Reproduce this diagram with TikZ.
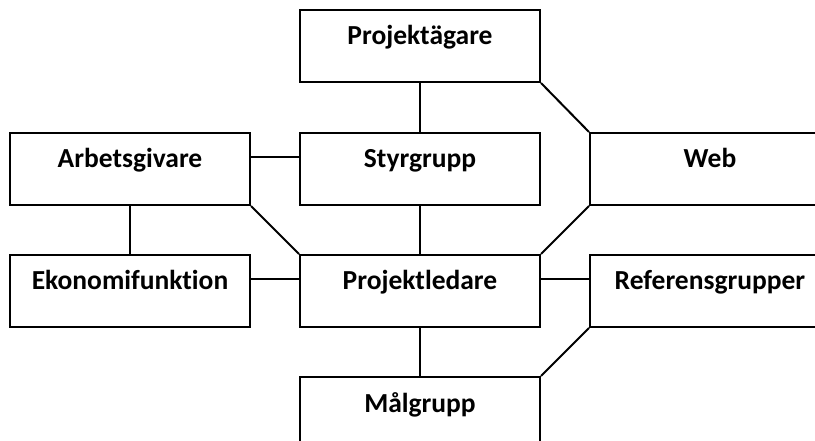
\documentclass[tikz,border=0pt]{standalone}
\usepackage{fontspec}
\setmainfont{Carlito}[Ligatures=NoCommon]
\usetikzlibrary{positioning}

\begin{document}
\begin{tikzpicture}[
        x=1pt, y=-1pt,
        font=\bfseries\fontsize{27.5}{32}\selectfont,
        box/.style={
            draw, line width=2pt,
            minimum width=240pt,
            inner sep=0pt,
            text height=35pt, text depth=37pt
        },
        link/.style={line width=2pt},
        node distance=48pt and 48pt
    ]
    \useasboundingbox (0,0) rectangle (815,441);
    \clip (0,0) rectangle (815,441);

    \node[box] (styr) at (420,169) {Styrgrupp};
    \node[box, above=49pt of styr] (agare) {Projektägare};
    \node[box, left=of styr] (arbets) {Arbetsgivare};
    \node[box, right=of styr] (web) {Web};
    \node[box, below=of styr] (ledare) {Projektledare};
    \node[box, left=of ledare] (eko) {Ekonomifunktion};
    \node[box, right=of ledare] (ref) {Referensgrupper};
    \node[box, below=of ledare] (mal) {Målgrupp};

    \draw[link] (agare.south) -- (styr.north);
    \draw[link] (agare.south east) -- (web.north west);
    \draw[link] ([yshift=12pt]arbets.east) -- ([yshift=12pt]styr.west);
    \draw[link] (arbets.south) -- (eko.north);
    \draw[link] (arbets.south east) -- (ledare.north west);
    \draw[link] (styr.south) -- (ledare.north);
    \draw[link] (web.south west) -- (ledare.north east);
    \draw[link] ([yshift=12pt]eko.east) -- ([yshift=12pt]ledare.west);
    \draw[link] ([yshift=12pt]ledare.east) -- ([yshift=12pt]ref.west);
    \draw[link] (ledare.south) -- (mal.north);
    \draw[link] (ref.south west) -- (mal.north east);
\end{tikzpicture}
\end{document}
